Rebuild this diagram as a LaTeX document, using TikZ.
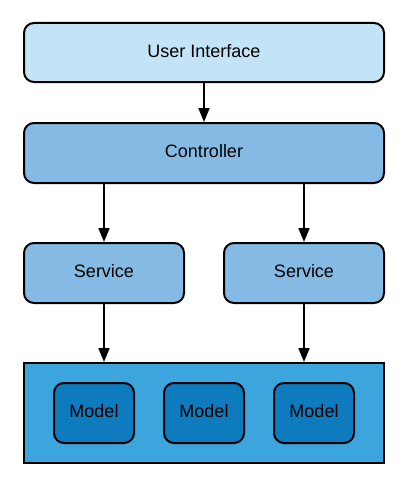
\documentclass[tikz,border=0pt]{standalone}
\usepackage{fontspec}
\setmainfont{Liberation Sans}
\usetikzlibrary{arrows.meta}
\definecolor{uicol}{HTML}{C3E4F7}
\definecolor{ctlcol}{HTML}{84BAE4}
\definecolor{contcol}{HTML}{3DA5DE}
\definecolor{modcol}{HTML}{0D7BBE}
\tikzset{
  box/.style={draw=black, line width=2pt, rounded corners=10pt, inner sep=0pt,
    font=\fontsize{18}{21}\selectfont, text depth=4pt, anchor=north west},
  conn/.style={draw=black, line width=2pt, -{Triangle[length=14pt,width=11pt]}},
}
\begin{document}
\begin{tikzpicture}[x=1pt,y=-1pt]
\useasboundingbox[fill=white] (0,0) rectangle (403,487);
\node[box, fill=uicol, minimum width=360pt, minimum height=59pt] (ui) at (23,22) {User Interface};
\node[box, fill=ctlcol, minimum width=360pt, minimum height=60pt] (ctl) at (23,122) {Controller};
\node[box, fill=ctlcol, minimum width=160pt, minimum height=60pt] (s1) at (23,242) {Service};
\node[box, fill=ctlcol, minimum width=160pt, minimum height=60pt] (s2) at (223,242) {Service};
\node[box, fill=contcol, rounded corners=0pt, minimum width=360pt, minimum height=100pt] (cont) at (23,362) {};
\node[box, fill=modcol, minimum width=80pt, minimum height=60pt] (m1) at (53,382) {Model};
\node[box, fill=modcol, minimum width=80pt, minimum height=60pt] (m2) at (163,382) {Model};
\node[box, fill=modcol, minimum width=80pt, minimum height=60pt] (m3) at (273,382) {Model};
\draw[conn] (ui.south) -- (ctl.north);
\draw[conn] (ctl.south -| s1.north) -- (s1.north);
\draw[conn] (ctl.south -| s2.north) -- (s2.north);
\draw[conn] (s1.south) -- (s1.south |- cont.north);
\draw[conn] (s2.south) -- (s2.south |- cont.north);
\end{tikzpicture}
\end{document}
